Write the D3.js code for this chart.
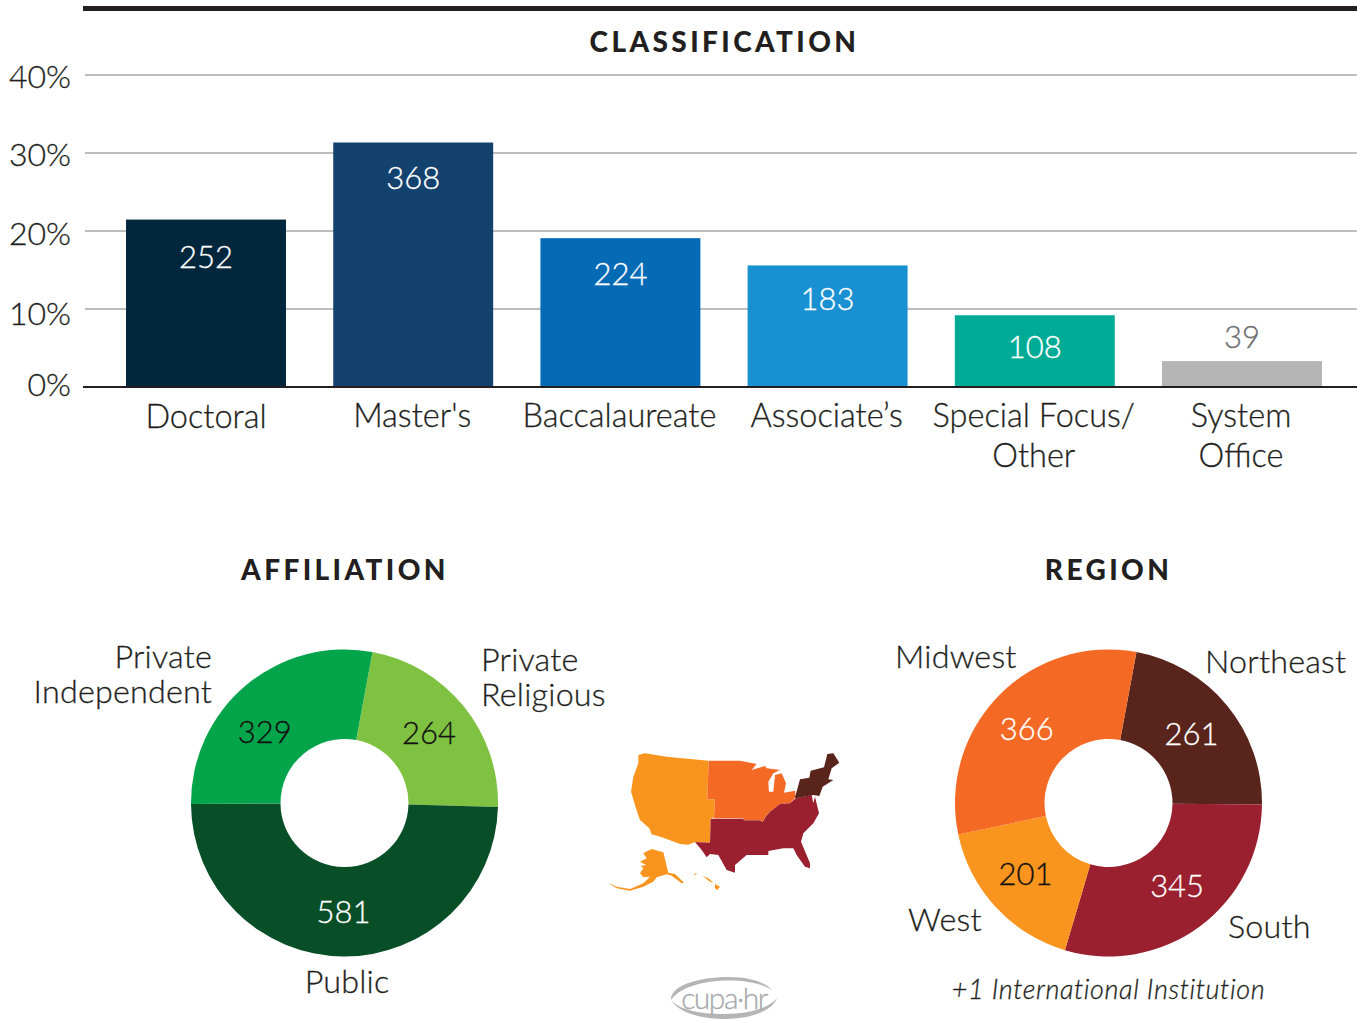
<!DOCTYPE html>
<html>
<head>
<meta charset="utf-8">
<script src="https://d3js.org/d3.v7.min.js"></script>
<style>
  html, body { margin: 0; padding: 0; background: #fff; }
  svg { display: block; }
  text { font-family: Lato, "Open Sans", sans-serif; font-weight: 300; color: #231f20; fill: currentColor; stroke: currentColor; stroke-width: 0.3px; }
  .title { font-weight: 900; font-size: 28px; letter-spacing: 3.4px; text-anchor: middle; stroke: none; }
  .lab { font-size: 32.3px; letter-spacing: 0.2px; }
  .tick-lab { font-size: 32px; letter-spacing: 0; }
  .val { font-size: 31px; text-anchor: middle; }
  .cat { font-size: 32.5px; text-anchor: middle; }
</style>
</head>
<body>
<script>
var w = 1357;
var h = 1019;

// classification bars
var classNames = [["Doctoral"], ["Master's"], ["Baccalaureate"], ["Associate’s"], ["Special Focus/", "Other"], ["System", "Office"]];
var classCounts = [252, 368, 224, 183, 108, 39];
var classColors = ["#02263c", "#14426e", "#066bb5", "#1990d2", "#00ab96", "#b5b5b5"];
var pctTicks = [0, 10, 20, 30, 40];

// affiliation donut
var affilNames = ["Private Religious", "Public", "Private Independent"];
var affilCounts = [264, 581, 329];
var affilColors = ["#7fc241", "#084e27", "#04a54a"];

// region donut
var regionNames = ["Northeast", "South", "West", "Midwest"];
var regionCounts = [261, 345, 201, 366];
var regionColors = ["#59241b", "#9a1f2f", "#f9951f", "#f46a25"];

// little map outlines, in the units of the icon
var mapWest = [[115,45],[135,40],[200,50],[326,62],[322,178],[345,178],[342,232],[332,236],[330,308],[285,306],[265,314],[240,312],[190,293],[155,283],[148,265],[120,240],[108,205],[93,155],[100,110],[115,70]];
var mapMidwest = [[326,62],[420,62],[470,72],[455,90],[495,78],[500,85],[540,90],[520,100],[505,125],[507,155],[520,155],[525,105],[545,100],[558,130],[552,158],[585,152],[587,172],[570,190],[540,192],[510,215],[495,232],[488,246],[480,240],[432,240],[430,235],[342,235],[345,178],[322,178]];
var mapSouth = [[332,236],[430,236],[432,241],[480,241],[488,246],[497,230],[510,215],[540,192],[570,190],[587,175],[635,165],[640,190],[645,170],[657,220],[640,250],[610,280],[603,305],[630,370],[630,385],[615,380],[590,345],[580,325],[550,325],[505,333],[505,345],[440,345],[405,375],[405,398],[380,390],[355,345],[330,342],[320,352],[305,330],[285,306],[330,308]];
var mapNortheast = [[585,172],[600,118],[628,113],[632,92],[672,82],[682,42],[700,40],[718,68],[695,85],[685,118],[700,120],[668,140],[658,168],[640,165],[587,175]];
var mapAlaska = [[130,340],[155,327],[190,337],[205,398],[225,402],[252,428],[245,430],[215,407],[200,403],[170,412],[160,425],[130,440],[90,452],[50,445],[25,428],[50,440],[90,447],[130,430],[150,410],[130,412],[120,400],[130,385],[122,378],[138,375],[120,365],[140,355]];
var mapHawaii1 = [[280,402],[290,400],[288,405]];
var mapHawaii2 = [[308,408],[325,415],[340,428],[330,425]];
var mapHawaii3 = [[345,432],[360,440],[352,450],[345,445]];

var svg = d3.select("body").append("svg")
    .attr("width", w)
    .attr("height", h);

var drawTitle = function (txt, x, y) {
    svg.append("text").attr("class", "title")
        .attr("x", x).attr("y", y).attr("dy", "0.36em")
        .text(txt);
}

var drawBars = function () {
    var total = d3.sum(classCounts);
    var y = d3.scaleLinear().domain([0, 40]).range([387, 75]);
    var x = d3.scaleBand().domain(d3.range(classCounts.length))
        .range([102.4, 1345.6]).paddingInner(0.228).paddingOuter(0.114);
    // the tick labels sit a little off their gridlines in the original
    var labelY = d3.scaleLinear().domain(pctTicks).range([384, 313, 233, 154, 76]);
    // same for the numbers inside the bars
    var valOffset = [37, 35, 36, 33, 32, -24];

    svg.append("rect").attr("x", 83).attr("y", 6).attr("width", w - 83).attr("height", 5).attr("fill", "#231f20");

    svg.selectAll(".grid").data(pctTicks.slice(1)).enter().append("line")
        .attr("class", "grid")
        .attr("x1", 85).attr("x2", w)
        .attr("y1", (d) => { return y(d) }).attr("y2", (d) => { return y(d) })
        .attr("stroke", "#bdbdbd").attr("stroke-width", 2);

    svg.selectAll(".tick-lab").data(pctTicks).enter().append("text")
        .attr("class", "tick-lab")
        .attr("x", 71).attr("y", (d) => { return labelY(d) })
        .attr("dy", "0.36em").attr("text-anchor", "end")
        .text((d) => { return d + "%" });

    svg.selectAll(".bar").data(classCounts).enter().append("rect")
        .attr("class", "bar")
        .attr("x", (d, i) => { return x(i) })
        .attr("width", x.bandwidth())
        .attr("y", (d) => { return y(d / total * 100) })
        .attr("height", (d) => { return y(0) - y(d / total * 100) })
        .attr("fill", (d, i) => { return classColors[i] });

    svg.append("line").attr("x1", 83).attr("x2", w).attr("y1", 387).attr("y2", 387)
        .attr("stroke", "#231f20").attr("stroke-width", 2);

    svg.selectAll(".bar-val").data(classCounts).enter().append("text")
        .attr("class", "val bar-val")
        .attr("x", (d, i) => { return x(i) + x.bandwidth() / 2 })
        .attr("y", (d, i) => { return y(d / total * 100) + valOffset[i] })
        .attr("dy", "0.36em")
        .style("color", (d) => { return d < 50 ? "#6d6e71" : "#fff" })
        .text((d) => { return d });

    classNames.forEach((lines, i) => {
        lines.forEach((line, j) => {
            svg.append("text").attr("class", "cat")
                .attr("x", x(i) + x.bandwidth() / 2 + (i == 0 ? 0 : -1))
                .attr("y", (i == 0 ? 416.5 : 415) + j * 40)
                .attr("dy", "0.36em")
                .text(line);
        });
    });
}

var drawDonut = function (cx, cy, counts, colors, startDeg, nudge, darkText) {
    var start = startDeg * Math.PI / 180;
    var pie = d3.pie().sort(null).startAngle(start).endAngle(start + 2 * Math.PI);
    var arc = d3.arc().innerRadius(64).outerRadius(153.5);
    var g = svg.append("g").attr("transform", "translate(" + cx + "," + cy + ")");

    g.selectAll("path").data(pie(counts)).enter().append("path")
        .attr("d", arc)
        .attr("fill", (d, i) => { return colors[i] });

    g.selectAll("text").data(pie(counts)).enter().append("text")
        .attr("class", "val")
        .attr("x", (d, i) => { return arc.centroid(d)[0] + nudge[i][0] })
        .attr("y", (d, i) => { return arc.centroid(d)[1] + nudge[i][1] })
        .attr("dy", "0.36em")
        .style("color", (d, i) => { return darkText[i] ? "#111" : "#fff" })
        .text((d) => { return d.data });
}

var drawOuterLabel = function (lines, x, y, anchor) {
    lines.forEach((line, j) => {
        svg.append("text").attr("class", "lab")
            .attr("x", x).attr("y", y + j * 35)
            .attr("dy", "0.36em").attr("text-anchor", anchor)
            .text(line);
    });
}

var drawMap = function () {
    var mx = d3.scaleLinear().domain([0, 750]).range([600, 850]);
    var my = d3.scaleLinear().domain([0, 480]).range([740, 900]);
    var line = d3.line().x((d) => { return mx(d[0]) }).y((d) => { return my(d[1]) }).curve(d3.curveLinearClosed);
    var shapes = [
        [mapWest, regionColors[2]], [mapAlaska, regionColors[2]], [mapHawaii1, regionColors[2]],
        [mapHawaii2, regionColors[2]], [mapHawaii3, regionColors[2]],
        [mapMidwest, regionColors[3]], [mapSouth, regionColors[1]], [mapNortheast, regionColors[0]]
    ];
    svg.selectAll(".map").data(shapes).enter().append("path")
        .attr("class", "map")
        .attr("d", (d) => { return line(d[0]) })
        .attr("fill", (d) => { return d[1] });
}

var drawLogo = function () {
    svg.append("path")
        .attr("d", "M671,1000 C670,986 698,977 728,977 C752,977 766,983 772,990 C762,984 748,980.5 728,980.5 C704,980.5 680,987 671,1000 Z")
        .attr("fill", "#b5b5b5");
    svg.append("path")
        .attr("d", "M671,1000 C678,1012 700,1019 724,1019 C752,1019 773,1010 777,998 C769,1008 750,1014 724,1014 C700,1014 680,1010 671,1000 Z")
        .attr("fill", "#b5b5b5");
    svg.append("text")
        .attr("x", 724).attr("y", 998).attr("dy", "0.36em")
        .attr("text-anchor", "middle")
        .style("font-size", "30px").style("letter-spacing", "-1.5px").style("color", "#a7a9ac")
        .text("cupa·hr");
}

drawTitle("CLASSIFICATION", 724.5, 42);
drawBars();

drawTitle("AFFILIATION", 345, 570);
drawDonut(344.5, 803, affilCounts, affilColors, 10.5, [[0, -2], [0, 0], [-10, 12]], [true, false, true]);
drawOuterLabel(["Private", "Religious"], 481, 659, "start");
drawOuterLabel(["Public"], 347, 981, "middle");
drawOuterLabel(["Private"], 212, 656, "end");
drawOuterLabel(["Independent"], 212, 691, "end");

drawTitle("REGION", 1108.5, 570);
drawDonut(1108.5, 803, regionCounts, regionColors, 10.5, [[-1, 0], [4, -5], [-3, -3], [-4, 2]], [false, false, true, false]);
drawOuterLabel(["Northeast"], 1205, 661, "start");
drawOuterLabel(["South"], 1228, 926, "start");
drawOuterLabel(["West"], 908, 919, "start");
drawOuterLabel(["Midwest"], 895, 656, "start");

svg.append("text")
    .attr("x", 1108.5).attr("y", 989).attr("dy", "0.36em")
    .attr("text-anchor", "middle")
    .style("font-size", "27px").style("font-style", "italic").style("letter-spacing", "0.6px")
    .text("+1 International Institution");

drawMap();
drawLogo();
</script>
</body>
</html>
